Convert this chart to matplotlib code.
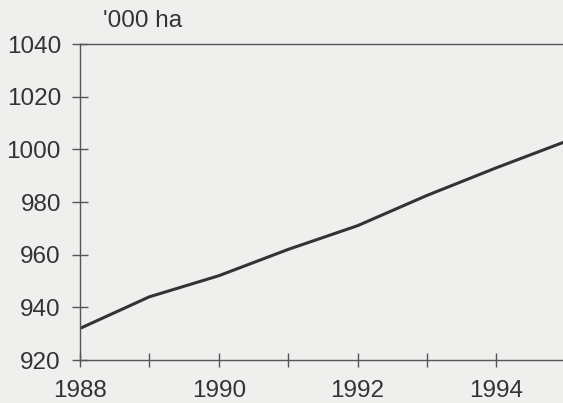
import matplotlib
matplotlib.use("Agg")
import matplotlib.pyplot as plt

# area, '000 ha
years = [1988, 1989, 1990, 1991, 1992, 1993, 1994, 1995]
area = [932, 944, 952, 962, 971, 982.5, 993, 1003]

y_ticks = [920, 940, 960, 980, 1000, 1020, 1040]
x_labels = [1988, 1990, 1992, 1994]

bg = "#efefed"
ink = "#333333"
axis_col = "#555555"

plt.rcParams['font.family'] = ['Liberation Sans', 'DejaVu Sans']

fig = plt.figure(figsize=(5.63, 4.03), dpi=100, facecolor=bg)
ax = fig.add_axes([80 / 563, 1 - 360 / 403, 1 - 80 / 563, (360 - 44) / 403])
ax.set_facecolor(bg)

ax.plot(years, area, color=ink, lw=2.2, solid_capstyle='butt')

ax.set_xlim(1988, 1994.96)
ax.set_ylim(920, 1040)
ax.set_yticks(y_ticks)
ax.set_xticks(x_labels)
ax.set_xticks([1989, 1991, 1993], minor=True)

for s in ['left', 'bottom', 'top']:
    ax.spines[s].set_color(axis_col)
    ax.spines[s].set_linewidth(1.0)
ax.spines['right'].set_visible(False)

ax.tick_params(axis='y', which='both', direction='inout', length=11.5, width=1.0,
               color=axis_col, labelsize=17.5, labelcolor=ink, pad=8)
ax.tick_params(axis='x', which='both', direction='inout', length=9.5, width=1.0,
               color=axis_col, labelsize=17.5, labelcolor=ink, pad=10)

fig.text(103 / 563, 1 - 21 / 403, "'000 ha", fontsize=17.5, color=ink,
         ha='left', va='center')

fig.savefig("out.png", dpi=100, facecolor=bg)
